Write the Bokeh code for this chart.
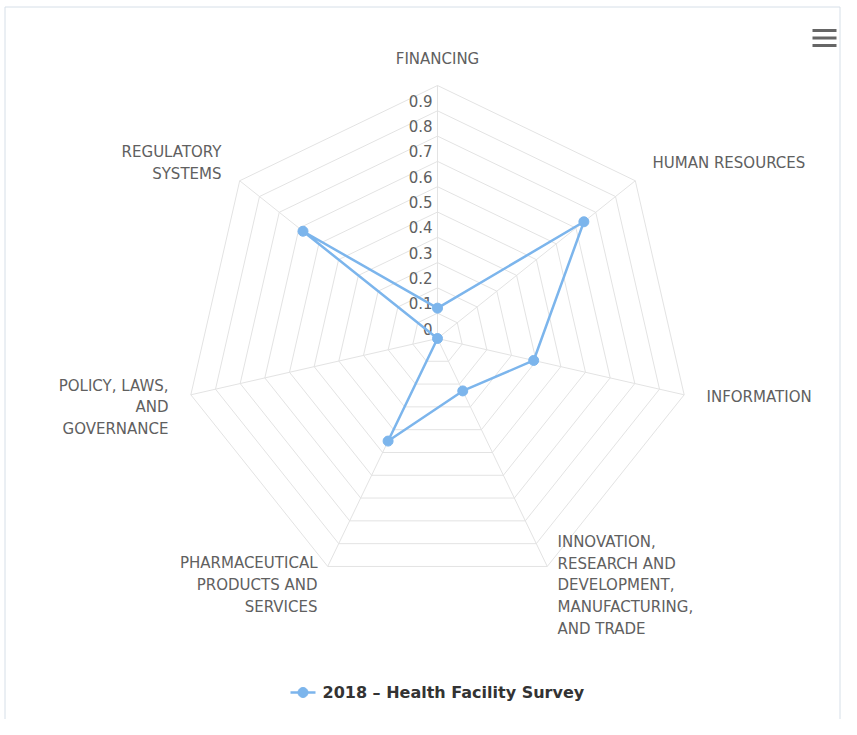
import numpy as np
from bokeh.plotting import figure
from bokeh.models import Range1d
from bokeh.core.properties import value
from bokeh.embed import file_html
from bokeh.resources import INLINE

# ---------------- data ----------------
categories = [
    "FINANCING",
    "HUMAN RESOURCES",
    "INFORMATION",
    "INNOVATION, RESEARCH AND DEVELOPMENT, MANUFACTURING, AND TRADE",
    "PHARMACEUTICAL PRODUCTS AND SERVICES",
    "POLICY, LAWS, AND GOVERNANCE",
    "REGULATORY SYSTEMS",
]
category_labels = [
    "FINANCING",
    "HUMAN RESOURCES",
    "INFORMATION",
    "INNOVATION,\nRESEARCH AND\nDEVELOPMENT,\nMANUFACTURING,\nAND TRADE",
    "PHARMACEUTICAL\nPRODUCTS AND\nSERVICES",
    "POLICY, LAWS,\nAND\nGOVERNANCE",
    "REGULATORY\nSYSTEMS",
]
series_name = "2018 \u2013 Health Facility Survey"
values_2018 = [0.12, 0.74, 0.39, 0.23, 0.45, 0.0, 0.68]
tick_values = [0.0, 0.1, 0.2, 0.3, 0.4, 0.5, 0.6, 0.7, 0.8, 0.9]
tick_labels = ["0", "0.1", "0.2", "0.3", "0.4", "0.5", "0.6", "0.7", "0.8", "0.9"]
ring_values = [0.1, 0.2, 0.3, 0.4, 0.5, 0.6, 0.7, 0.8, 0.9, 1.0]
y_max = 1.0

# ---------------- layout ----------------
W, H = 841, 719
R = 253.0               # pixels per unit radius
CX, CY = 437.0, 338.0   # centre in picture pixels
x0 = -CX / R
y1 = CY / R
FONT = value("DejaVu Sans")
GRID = "#e3e3e3"
LABEL = "#606060"
SERIES = "#7cb5ec"


def px(sx, sy):
    return (sx - CX) / R, (CY - sy) / R


n = len(categories)
theta = np.arange(n) * 2 * np.pi / n


def polar(r):
    r = np.asarray(r, dtype=float)
    return r * np.sin(theta), r * np.cos(theta)


p = figure(width=W, height=H, output_backend="svg", toolbar_location=None,
           x_range=Range1d(x0, x0 + W / R), y_range=Range1d(y1 - H / R, y1),
           min_border=0, tools="")
p.axis.visible = False
p.grid.visible = False
p.outline_line_color = None
p.background_fill_color = "white"
p.border_fill_color = "white"

# chart border
BORDER = "#d6dfe8"
bl, bt = px(4.5, 6.5)
br, bb = px(839.5, 719)
p.line([bl, bl], [bb, bt], line_color=BORDER, line_width=1)
p.line([bl, br], [bt, bt], line_color=BORDER, line_width=1)
p.line([br, br], [bt, bb], line_color=BORDER, line_width=1)

# rings
for rv in ring_values:
    xs, ys = polar([rv] * n)
    p.line(list(xs) + [xs[0]], list(ys) + [ys[0]], line_color=GRID, line_width=1)
# spokes
xo, yo = polar([y_max] * n)
p.multi_line([[0, x] for x in xo], [[0, y] for y in yo], line_color=GRID, line_width=1)

# radial tick labels
tx = [px(CX - 5, 0)[0]] * len(tick_values)
ty = [v + 10 / R for v in tick_values]
p.text(tx, ty, text=tick_labels, text_align="right", text_baseline="middle",
       text_font=FONT, text_font_size="15px", text_color=LABEL)

# series
vx, vy = polar(values_2018)
p.line(list(vx) + [vx[0]], list(vy) + [vy[0]], line_color=SERIES, line_width=2.5)
p.scatter(vx, vy, size=10, marker="circle", fill_color=SERIES, line_color=SERIES)

# category labels
label_pos = [(437, 58, "center"), (652, 162, "left"), (706, 396, "left"),
             (557, 585, "left"), (317, 584.5, "right"), (168, 407, "right"),
             (221, 162.5, "right")]
for lab, (sx, sy, al) in zip(category_labels, label_pos):
    lx, ly = px(sx, sy)
    p.text([lx], [ly], text=[lab], text_align=al, text_baseline="middle",
           text_font=FONT, text_font_size="15px", text_color=LABEL,
           text_line_height=1.2)

# legend
lx1, ly = px(290, 692)
lx2, _ = px(315, 692)
p.line([lx1, lx2], [ly, ly], line_color=SERIES, line_width=2.5)
p.scatter([(lx1 + lx2) / 2], [ly], size=10, marker="circle", fill_color=SERIES, line_color=SERIES)
tx0, _ = px(322, 692)
p.text([tx0], [ly], text=[series_name], text_align="left", text_baseline="middle",
       text_font=FONT, text_font_size="16px", text_font_style="bold", text_color="#333333")

# menu icon
for sy in (30, 37.5, 45):
    a, b = px(812, sy)
    c, _ = px(836, sy)
    p.line([a, c], [b, b], line_color="#666666", line_width=3)

open("out.html", "w").write(file_html(p, INLINE))
